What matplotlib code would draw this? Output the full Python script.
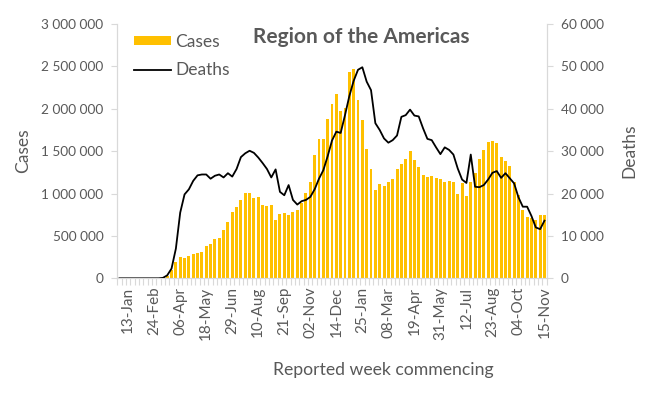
import numpy as np
import matplotlib
matplotlib.use('Agg')
import matplotlib.pyplot as plt
from matplotlib.ticker import FuncFormatter, FixedLocator
from matplotlib.patches import Patch
from matplotlib.lines import Line2D

plt.rcParams['font.family'] = ['Lato', 'DejaVu Sans']

# weekly data, first week commencing 30-Dec-2019, last 15-Nov-2021
cases = [0, 0, 0, 0, 0, 0, 0, 0, 0, 0,
         3000, 25000, 98000, 190000, 252000, 242000, 263000, 287000, 299000, 311000,
         382000, 405000, 464000, 478000, 570000, 665000, 783000, 842000, 925000, 1007000,
         1007000, 948000, 960000, 866000, 854000, 866000, 689000, 759000, 771000, 748000,
         783000, 807000, 889000, 1007000, 1137000, 1456000, 1645000, 1645000, 1881000, 2058000,
         2176000, 1976000, 2011000, 2437000, 2472000, 2105000, 1862000, 1527000, 1291000, 1043000,
         1114000, 1090000, 1137000, 1173000, 1291000, 1343000, 1409000, 1503000, 1397000, 1318000,
         1220000, 1200000, 1212000, 1185000, 1173000, 1137000, 1149000, 1137000, 995000, 1125000,
         972000, 1137000, 1243000, 1409000, 1515000, 1609000, 1621000, 1597000, 1432000, 1385000,
         1326000, 1131000, 988000, 807000, 724000, 712000, 689000, 748000, 748000]

deaths = [0, 0, 0, 0, 0, 0, 0, 0, 0, 0,
          100, 700, 2300, 7000, 15500, 19800, 21000, 23000, 24300, 24500,
          24500, 23500, 24200, 24500, 23800, 24800, 24000, 25800, 28600, 29500,
          30100, 29600, 28500, 27200, 25800, 23800, 25700, 20400, 19600, 22000,
          18500, 17400, 18200, 18500, 19200, 21000, 23500, 25500, 28800, 32500,
          34600, 34300, 38500, 43000, 46600, 49200, 49800, 46400, 44400, 36600,
          35000, 33000, 32000, 32600, 33700, 38100, 38500, 39800, 38400, 38200,
          35400, 32900, 32600, 30900, 29300, 30900, 30300, 29200, 25900, 23300,
          22500, 29200, 21600, 21500, 22000, 23300, 24900, 25300, 23700, 24800,
          23600, 22400, 19100, 16900, 16900, 14700, 12000, 11600, 13600]

tick_labels = ['13-Jan', '24-Feb', '06-Apr', '18-May', '29-Jun', '10-Aug', '21-Sep',
               '02-Nov', '14-Dec', '25-Jan', '08-Mar', '19-Apr', '31-May', '12-Jul',
               '23-Aug', '04-Oct', '15-Nov']

x = np.arange(len(cases))
tick_pos = x[2::6]

grey = '#595959'
axis_col = '#d9d9d9'

fig = plt.figure(figsize=(6.5, 3.93), dpi=100)
ax = fig.add_axes([0.1805, 0.2918, 0.6605, 0.6471])
ax2 = ax.twinx()

ax.bar(x, cases, width=0.68, color='#FFC000', zorder=2)
ax2.plot(x, deaths, color='black', lw=1.3, zorder=3)

ax.set_xlim(-0.5, len(cases) - 0.5)
ax.set_ylim(0, 3000000)
ax2.set_ylim(0, 60000)
ax.set_yticks(np.arange(0, 3000001, 500000))
ax2.set_yticks(np.arange(0, 60001, 10000))

fmt = FuncFormatter(lambda v, p: f'{int(v):,}'.replace(',', ' '))
ax.yaxis.set_major_formatter(fmt)
ax2.yaxis.set_major_formatter(fmt)

ax.xaxis.set_major_locator(FixedLocator(tick_pos))
ax.set_xticklabels(tick_labels, rotation=90)
ax.xaxis.set_minor_locator(FixedLocator(np.arange(-0.5, len(cases), 1.0)))
ax.tick_params(axis='x', which='major', length=0, pad=6, labelsize=11, labelcolor=grey)
ax.tick_params(axis='x', which='minor', length=5, color=axis_col, width=0.8)
ax.tick_params(axis='y', length=4, color=axis_col, labelsize=9.8, labelcolor=grey, pad=6)
ax2.tick_params(axis='y', length=4, color=axis_col, labelsize=9.8, labelcolor=grey, pad=6)

for a in (ax, ax2):
    a.spines['top'].set_visible(False)
    for s in ('left', 'right', 'bottom'):
        a.spines[s].set_color(axis_col)
        a.spines[s].set_linewidth(0.8)

ax.set_ylabel('Cases', fontsize=12.5, color=grey, labelpad=7)
ax2.set_ylabel('Deaths', fontsize=12.5, color=grey, labelpad=13)
fig.text(0.589, 0.058, 'Reported week commencing', ha='center', va='center',
         fontsize=12.7, color=grey)

fig.text(0.556, 0.905, 'Region of the Americas', ha='center', va='center',
         fontsize=15, fontweight='bold', color=grey)

handles = [Patch(facecolor='#FFC000', edgecolor='none'),
           Line2D([0], [0], color='black', lw=1.3)]
leg = ax.legend(handles, ['Cases', 'Deaths'], loc='upper left', frameon=False,
                fontsize=12.5, handlelength=2.1, handleheight=0.45, handletextpad=0.25,
                labelspacing=0.72, borderpad=0.2, bbox_to_anchor=(0.011, 1.01))
for t in leg.get_texts():
    t.set_color(grey)

fig.savefig('out.png', dpi=100)
